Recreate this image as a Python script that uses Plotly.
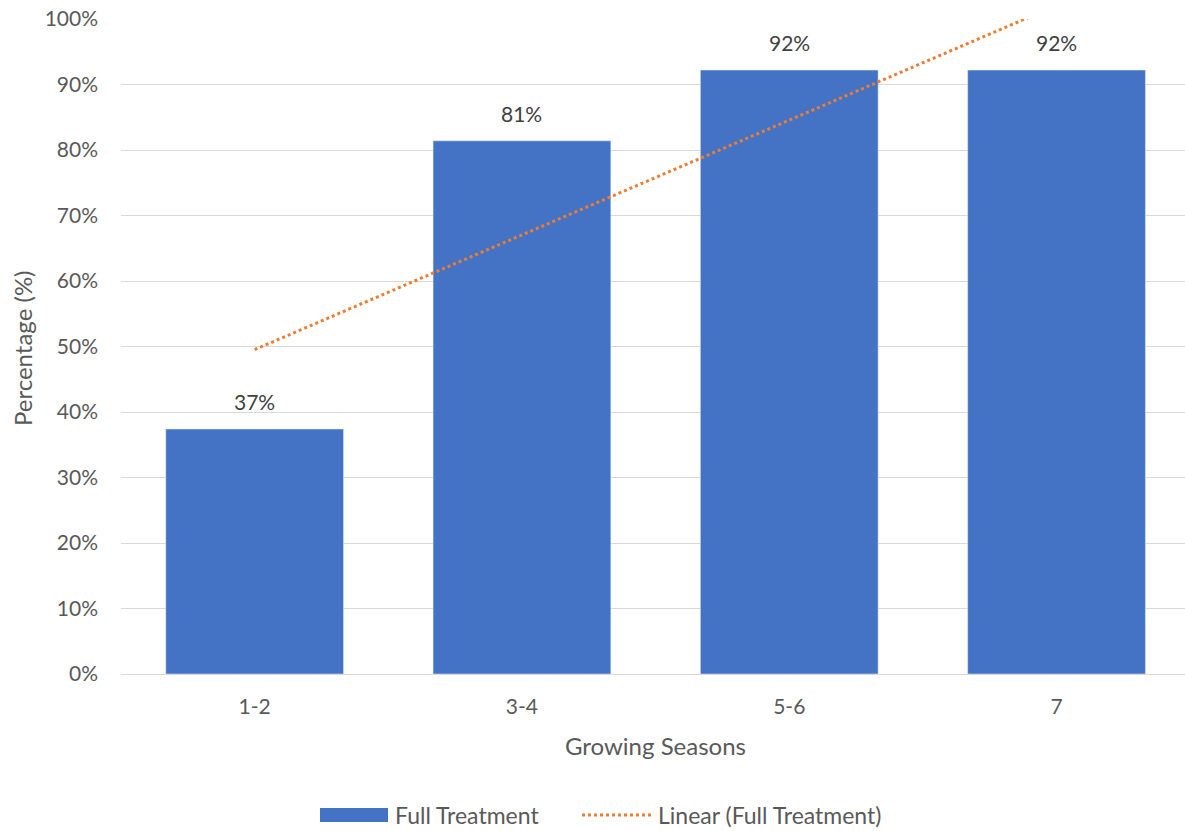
import numpy as np
import plotly.graph_objects as go

# Share of plots with full treatment, by growing season group
seasons = ["1-2", "3-4", "5-6", "7"]
full_treatment = [0.374, 0.814, 0.922, 0.922]

BLUE = "#4472C4"
ORANGE = "#ED7D31"
GREY = "#595959"
FONT = "Lato"

W, H = 1185, 831
L, T, B = 121, 19, 157
plot_w, plot_h = W - L, H - T - B
cat_step = 267.3  # pixels between category centres

# Linear trend line fitted to the bar values
xi = np.arange(1, len(seasons) + 1)
slope, intercept = np.polyfit(xi, full_treatment, 1)
trend = slope * xi + intercept

fig = go.Figure()
fig.add_trace(go.Bar(
    x=seasons, y=full_treatment, marker_color=BLUE, width=0.665,
    name="Full Treatment", showlegend=False,
))
fig.add_trace(go.Scatter(
    x=seasons, y=trend, mode="lines",
    line=dict(color=ORANGE, width=3, dash="dot"),
    name="Linear (Full Treatment)", showlegend=False,
))

# Value labels above the bars (category index keeps "7" from being read as a position)
for i, v in enumerate(full_treatment):
    fig.add_annotation(
        x=i, y=v, text=f"{v:.0%}", showarrow=False, yanchor="bottom",
        yshift=13, font=dict(family=FONT, size=21, color="#404040"),
    )


def px_x(p):
    return (p - L) / plot_w


def px_y(p):
    return (H - B - p) / plot_h


# Axis titles
fig.add_annotation(
    x=px_x(655), y=px_y(745), xref="paper", yref="paper", text="Growing Seasons",
    showarrow=False, font=dict(family=FONT, size=24, color=GREY),
    xanchor="center", yanchor="middle",
)
fig.add_annotation(
    x=px_x(22), y=px_y(348), xref="paper", yref="paper", text="Percentage (%)",
    showarrow=False, textangle=-90, font=dict(family=FONT, size=24, color=GREY),
    xanchor="center", yanchor="middle",
)

# Legend
fig.add_shape(type="rect", xref="paper", yref="paper",
              x0=px_x(320), x1=px_x(388), y0=px_y(822), y1=px_y(808),
              fillcolor=BLUE, line=dict(width=0))
fig.add_annotation(x=px_x(393), y=px_y(815), xref="paper", yref="paper",
                   text="Full Treatment", showarrow=False, xanchor="left",
                   yanchor="middle", font=dict(family=FONT, size=23, color=GREY))
fig.add_shape(type="line", xref="paper", yref="paper",
              x0=px_x(582), x1=px_x(652), y0=px_y(815), y1=px_y(815),
              line=dict(color=ORANGE, width=3, dash="dot"))
fig.add_annotation(x=px_x(656), y=px_y(815), xref="paper", yref="paper",
                   text="Linear (Full Treatment)", showarrow=False, xanchor="left",
                   yanchor="middle", font=dict(family=FONT, size=23, color=GREY))

fig.update_layout(
    width=W, height=H,
    margin=dict(l=L, r=0, t=T, b=B),
    paper_bgcolor="white", plot_bgcolor="white",
    font=dict(family=FONT, size=21, color=GREY),
    bargap=0.335,
)
fig.update_xaxes(
    type="category", range=[-0.5, -0.5 + plot_w / cat_step],
    showgrid=False, showline=False, ticks="", ticklabelstandoff=18,
    tickfont=dict(family=FONT, size=21, color=GREY),
)
fig.update_yaxes(
    range=[0, 1], dtick=0.1, tickformat=".0%",
    showgrid=True, gridcolor="#D9D9D9", gridwidth=1.3,
    zeroline=True, zerolinecolor="#D9D9D9", zerolinewidth=1.3,
    showline=False, ticks="", ticklabelstandoff=22,
    tickfont=dict(family=FONT, size=21, color=GREY),
)

fig.write_html("out.html")
